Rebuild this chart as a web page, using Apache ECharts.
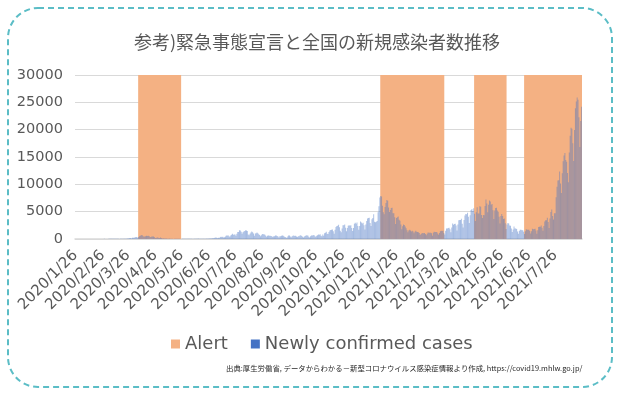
<!DOCTYPE html>
<html>
<head>
<meta charset="utf-8">
<style>
  html, body { margin: 0; padding: 0; background: #ffffff; }
  #chart { width: 620px; height: 394px; }
</style>
<script src="https://cdn.jsdelivr.net/npm/echarts@6/dist/echarts.min.js"></script>
</head>
<body>
<div id="chart"></div>
<script>
// Daily newly confirmed cases, Japan (2020/1/26 - 2020/12/31)
const cases2020 = [
  // Jan 26-31
  1, 0, 2, 1, 3, 3,
  // Feb
  2, 0, 0, 0, 0, 0, 1, 1, 0, 0, 1, 1, 3, 8, 10, 6, 5, 4, 10, 11, 8, 12, 19, 8, 10, 17, 20, 23, 10,
  // Mar
  14, 15, 14, 34, 32, 59, 47, 33, 27, 59, 52, 55, 41, 63, 36, 17, 44, 39, 36, 53, 37, 42, 39, 66, 95, 97, 120, 203, 173, 87, 219,
  // Apr
  250, 237, 339, 369, 382, 249, 360, 514, 581, 689, 720, 548, 391, 466, 512, 573, 558, 585, 568, 373, 383, 443, 435, 438, 385, 205, 182, 272, 270, 181,
  // May
  191, 289, 204, 87, 126, 111, 87, 87, 111, 65, 48, 80, 47, 55, 66, 34, 14, 30, 25, 23, 43, 27, 26, 32, 21, 19, 38, 53, 46, 50, 37,
  // Jun
  33, 50, 39, 45, 40, 46, 47, 21, 37, 36, 41, 47, 41, 72, 66, 52, 47, 51, 58, 54, 57, 43, 60, 94, 68, 106, 100, 92, 86, 129,
  // Jul
  124, 195, 250, 273, 207, 146, 207, 190, 355, 430, 384, 408, 260, 336, 447, 622, 594, 664, 510, 418, 630, 795, 981, 770, 846, 846, 600, 981, 1264, 1301, 1580,
  // Aug
  1536, 1331, 957, 1243, 1355, 1485, 1605, 1567, 1445, 815, 699, 966, 1176, 1359, 1232, 1020, 615, 1000, 1072, 1176, 1030, 847, 740, 492, 667, 908, 890, 856, 782, 588, 432,
  // Sep
  596, 645, 577, 587, 562, 509, 363, 506, 507, 653, 645, 562, 438, 297, 494, 512, 588, 621, 582, 448, 375, 324, 202, 480, 620, 644, 475, 304, 518, 591,
  // Oct
  633, 540, 577, 443, 368, 499, 525, 623, 681, 559, 418, 267, 438, 551, 685, 660, 632, 425, 295, 483, 630, 622, 701, 740, 524, 429, 577, 708, 809, 767, 864,
  // Nov
  613, 496, 846, 613, 1041, 1137, 1331, 939, 924, 1277, 1542, 1660, 1706, 1735, 1437, 949, 1695, 2201, 2386, 2427, 2596, 2168, 1520, 1228, 1942, 2504, 2508, 2674, 2061, 1438,
  // Dec
  2030, 2433, 2515, 2441, 2512, 2025, 1476, 2024, 2810, 2973, 2774, 3041, 2395, 1680, 2390, 3211, 3041, 2834, 2992, 2494, 1744, 2646, 3271, 3740, 3823, 3881, 2948, 2395, 3604, 3852, 4520
];

// Daily newly confirmed cases, Japan (2021/1/1 - 2021/8/25)
const cases2021 = [
  // Jan
  3158, 3070, 3138, 3311, 4916, 6004, 7570, 7882, 7790, 6094, 4876, 4538, 5874, 6605, 7122, 7014, 5759, 4925, 5320, 5654, 5703, 4716, 4716, 3990, 2764, 3853, 3963, 4132, 3535, 3342, 2673,
  // Feb
  1792, 2324, 2631, 2576, 2277, 1983, 1604, 1227, 1569, 1714, 1575, 1359, 1516, 1366, 1057, 1319, 1527, 1308, 1302, 1249, 1094, 740, 894, 1060, 1076, 1043, 1075, 895,
  // Mar
  690, 979, 1191, 1149, 1145, 1132, 1046, 594, 1126, 1318, 1290, 1285, 1295, 1025, 760, 1086, 1412, 1523, 1473, 1522, 1108, 817, 1512, 1919, 1904, 2035, 2080, 1785, 1230, 2092, 2843,
  // Apr
  2605, 2762, 2771, 2453, 1570, 2659, 3451, 3454, 3492, 3697, 2779, 2121, 3453, 4312, 4570, 4532, 4802, 4091, 2920, 4325, 5292, 5504, 5119, 5606, 4600, 3311, 4884, 5791, 4680, 4685,
  // May
  5988, 5891, 4383, 3829, 4411, 4323, 6054, 7244, 6480, 4893, 6247, 7058, 6882, 6266, 6417, 5247, 3679, 5232, 5692, 5718, 5230, 4999, 4053, 2839, 4192, 4563, 4217, 3681, 3734, 2875, 1847,
  // Jun
  2643, 2931, 2849, 2468, 2436, 1934, 1258, 1742, 2270, 1906, 1943, 1842, 1387, 938, 1486, 1711, 1671, 1620, 1602, 1308, 902, 1421, 1766, 1714, 1688, 1700, 1448, 986, 1436, 1880,
  // Jul
  1792, 1849, 1870, 1553, 972, 1618, 2191, 2245, 2238, 2453, 2059, 1502, 2385, 3190, 3419, 3420, 3876, 3102, 1994, 3758, 4943, 5396, 4225, 3574, 4692, 4692, 7629, 9576, 10699, 10743, 12341,
  // Aug 1-25
  10168, 8392, 12017, 14207, 15263, 15753, 14472, 14116, 12076, 10398, 15812, 18889, 20365, 20151, 17494, 14262, 19955, 23917, 25146, 25876, 25492, 22257, 16830, 21570, 24196
];

// Alert periods (first day, last day)
const alertPeriods = [
  ['2020/4/7', '2020/5/25'],
  ['2021/1/8', '2021/3/21'],
  ['2021/4/25', '2021/5/31'],
  ['2021/6/21', '2021/8/25']
];

const yTicks = [0, 5000, 10000, 15000, 20000, 25000, 30000];
const firstDay = [2020, 1, 26];

const cases = cases2020.concat(cases2021);

// One category per day, starting at firstDay
const dates = [];
{
  const d = new Date(firstDay[0], firstDay[1] - 1, firstDay[2]);
  for (let i = 0; i < cases.length; i++) {
    dates.push(d.getFullYear() + '/' + (d.getMonth() + 1) + '/' + d.getDate());
    d.setDate(d.getDate() + 1);
  }
}

// Alert spans as [first index, last index] on the day axis
const alertSpans = alertPeriods.map(p => [dates.indexOf(p[0]), dates.indexOf(p[1])]);

const onMonthTick = (idx, val) => /\/26$/.test(val);

const labelColor = '#595959';
const latinFont = '"DejaVu Sans", sans-serif';
const cjkFont = '"Noto Sans CJK JP", sans-serif';

const chart = echarts.init(document.getElementById('chart'), null, { renderer: 'canvas' });

// Full-height band covering every day of an alert span
function renderAlert(params, api) {
  const cs = params.coordSys;
  const bandW = api.size([1, 0])[0];
  const x0 = api.coord([api.value(0), 0])[0] - bandW / 2;
  const x1 = api.coord([api.value(1), 0])[0] + bandW / 2;
  return {
    type: 'rect',
    shape: { x: x0, y: cs.y, width: x1 - x0, height: cs.height },
    style: { fill: '#F4B183' }
  };
}

chart.setOption({
  animation: false,
  backgroundColor: '#ffffff',
  legend: {
    left: 166,
    top: 330,
    itemWidth: 9,
    itemHeight: 9,
    itemGap: 23,
    textStyle: { fontFamily: latinFont, fontSize: 18, color: labelColor },
    data: [
      { name: 'Alert', icon: 'rect', itemStyle: { color: '#F4B183', opacity: 1 } },
      { name: 'Newly confirmed cases', icon: 'rect', itemStyle: { color: '#4472C4', opacity: 1 } }
    ]
  },
  grid: { left: 75, right: 38, top: 75, bottom: 155 },
  xAxis: {
    type: 'category',
    data: dates,
    boundaryGap: true,
    axisLine: { lineStyle: { color: '#d9d9d9', width: 1.5 } },
    axisTick: { interval: onMonthTick, length: 5, lineStyle: { color: '#d0d0d0', width: 1 } },
    axisLabel: {
      interval: onMonthTick,
      rotate: 45,
      margin: 14,
      color: labelColor,
      fontFamily: latinFont,
      fontSize: 15
    }
  },
  yAxis: {
    type: 'value',
    min: yTicks[0],
    max: yTicks[yTicks.length - 1],
    interval: yTicks[1] - yTicks[0],
    axisLine: { show: false },
    axisTick: { show: false },
    axisLabel: {
      margin: 12,
      color: labelColor,
      fontFamily: latinFont,
      fontSize: 14.5,
      formatter: v => String(v)
    },
    splitLine: { lineStyle: { color: '#d9d9d9', width: 1.2 } }
  },
  series: [
    {
      name: 'Alert',
      type: 'custom',
      renderItem: renderAlert,
      encode: { x: [0, 1] },
      data: alertSpans,
      itemStyle: { color: '#F4B183' },
      silent: true,
      z: 1
    },
    {
      name: 'Newly confirmed cases',
      type: 'bar',
      data: cases,
      barCategoryGap: '20%',
      itemStyle: { color: '#4472C4', opacity: 0.42 },
      z: 3
    }
  ],
  graphic: [
    {
      type: 'rect',
      silent: true,
      z: 100,
      shape: { x: 8, y: 8, width: 604, height: 379, r: 30 },
      style: { fill: 'none', stroke: '#5bbdc6', lineWidth: 2, lineDash: [6, 4] }
    },
    {
      type: 'text',
      silent: true,
      x: 317,
      y: 42,
      style: {
        text: '参考)緊急事態宣言と全国の新規感染者数推移',
        align: 'center',
        verticalAlign: 'middle',
        fontFamily: cjkFont,
        fontSize: 18,
        fill: labelColor
      }
    },
    {
      type: 'text',
      silent: true,
      x: 226,
      y: 368,
      style: {
        text: '出典:厚生労働省, データからわかる－新型コロナウイルス感染症情報より作成, https://covid19.mhlw.go.jp/',
        verticalAlign: 'middle',
        fontFamily: cjkFont,
        fontSize: 7.4,
        fill: '#262626'
      }
    }
  ]
});
</script>
</body>
</html>
